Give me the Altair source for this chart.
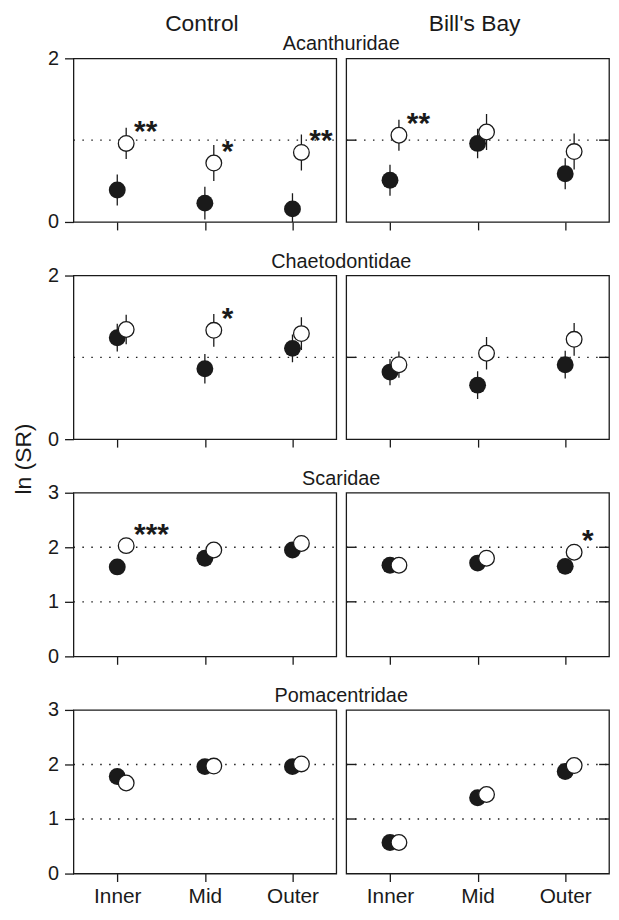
import altair as alt
import pandas as pd

families = ["Acanthuridae", "Chaetodontidae", "Scaridae", "Pomacentridae"]
sites = ["Control", "Bill's Bay"]
zones = ["Inner", "Mid", "Outer"]
y_max = [2, 2, 3, 3]
ref_levels = [[1], [1], [1, 2], [1, 2]]

# filled (dark) circles: mean ln(SR) per zone, [Control, Bill's Bay]
filled_mean = {
    "Acanthuridae":   [[0.39, 0.23, 0.16], [0.51, 0.96, 0.59]],
    "Chaetodontidae": [[1.24, 0.86, 1.11], [0.82, 0.66, 0.91]],
    "Scaridae":       [[1.64, 1.80, 1.95], [1.67, 1.71, 1.65]],
    "Pomacentridae":  [[1.78, 1.96, 1.96], [0.57, 1.39, 1.87]],
}
filled_se = {
    "Acanthuridae":   [[0.19, 0.20, 0.19], [0.19, 0.18, 0.19]],
    "Chaetodontidae": [[0.17, 0.18, 0.17], [0.16, 0.17, 0.17]],
    "Scaridae":       [[0.08, 0.08, 0.08], [0.08, 0.08, 0.08]],
    "Pomacentridae":  [[0.08, 0.08, 0.08], [0.08, 0.08, 0.08]],
}
# open circles
open_mean = {
    "Acanthuridae":   [[0.96, 0.72, 0.85], [1.06, 1.10, 0.86]],
    "Chaetodontidae": [[1.34, 1.33, 1.29], [0.91, 1.05, 1.22]],
    "Scaridae":       [[2.03, 1.95, 2.07], [1.67, 1.80, 1.91]],
    "Pomacentridae":  [[1.66, 1.97, 2.01], [0.57, 1.45, 1.98]],
}
open_se = {
    "Acanthuridae":   [[0.19, 0.22, 0.22], [0.19, 0.22, 0.22]],
    "Chaetodontidae": [[0.18, 0.20, 0.20], [0.16, 0.20, 0.20]],
    "Scaridae":       [[0.08, 0.08, 0.08], [0.08, 0.08, 0.08]],
    "Pomacentridae":  [[0.08, 0.08, 0.08], [0.08, 0.08, 0.08]],
}
signif = {
    "Acanthuridae":   [["**", "*", "**"], ["**", "", ""]],
    "Chaetodontidae": [["", "*", ""], ["", "", ""]],
    "Scaridae":       [["***", "", ""], ["", "", "*"]],
    "Pomacentridae":  [["", "", ""], ["", "", ""]],
}

rows = []
for fam in families:
    for si, site in enumerate(sites):
        for zi, z in enumerate(zones):
            for kind, m, s in (("filled", filled_mean, filled_se), ("open", open_mean, open_se)):
                mean = m[fam][si][zi]
                se = s[fam][si][zi]
                rows.append(dict(family=fam, site=site, zone=z, kind=kind, mean=mean,
                                 lo=mean - se, hi=mean + se,
                                 sig=signif[fam][si][zi] if kind == "open" else ""))
df = pd.DataFrame(rows)

W, H = 265, 165
INK = "#1a1a1a"
OFF = 9


def panel(fi, si):
    fam, site = families[fi], sites[si]
    d = df[(df.family == fam) & (df.site == site)]
    left = si == 0
    bottom = fi == len(families) - 1
    ysc = alt.Scale(domain=[0, y_max[fi]], nice=False)
    xsc = alt.Scale(type="point", domain=zones, padding=0.5)
    xaxis = alt.Axis(title=None, labels=bottom, tickSize=8, domain=False, grid=False,
                     labelFontSize=21, labelPadding=4, labelAngle=0,
                     tickColor=INK, tickWidth=1.3, labelColor=INK)
    if left:
        yaxis = alt.Axis(title=None, values=list(range(y_max[fi] + 1)), format="d", tickSize=9,
                         domain=False, grid=False, labelFontSize=20, labelPadding=6,
                         tickColor=INK, tickWidth=1.3, labelColor=INK)
    else:
        yaxis = None
    X = alt.X("zone:N", scale=xsc, axis=xaxis)

    def Y(f):
        return alt.Y(f, scale=ysc, axis=yaxis)

    layers = []
    refdf = pd.DataFrame({"v": ref_levels[fi]})
    layers.append(alt.Chart(refdf).mark_rule(strokeDash=[1.5, 7.5], color=INK, strokeWidth=1.4)
                  .encode(y=Y("v:Q"), x=alt.value(0), x2=alt.value(W)))
    if not left:
        layers.append(alt.Chart(refdf).mark_rule(color=INK, strokeWidth=1.4)
                      .encode(y=Y("v:Q"), x=alt.value(0), x2=alt.value(10)))
        layers.append(alt.Chart(refdf).mark_rule(color=INK, strokeWidth=1.4)
                      .encode(y=Y("v:Q"), x=alt.value(W - 10), x2=alt.value(W)))
    base = alt.Chart(d)
    fl = base.transform_filter(alt.datum.kind == "filled")
    op = base.transform_filter(alt.datum.kind == "open")
    layers.append(fl.mark_rule(color=INK, strokeWidth=1.3, clip=True)
                  .encode(x=X, y=Y("lo:Q"), y2="hi:Q"))
    layers.append(fl.mark_circle(size=290, color=INK, opacity=1)
                  .encode(x=X, y=Y("mean:Q")))
    layers.append(op.mark_rule(color=INK, strokeWidth=1.3, clip=True, xOffset=OFF)
                  .encode(x=X, y=Y("lo:Q"), y2="hi:Q"))
    layers.append(op.mark_circle(size=250, fill="white", stroke=INK, strokeWidth=1.3,
                                 opacity=1, xOffset=OFF)
                  .encode(x=X, y=Y("mean:Q")))
    layers.append(op.transform_filter(alt.datum.sig != "")
                  .mark_text(align="left", baseline="alphabetic", dx=OFF + 8, dy=-2,
                             fontSize=30, fontWeight="bold", color=INK)
                  .encode(x=X, y=Y("mean:Q"), text="sig:N"))
    if left:
        layers.append(alt.Chart(pd.DataFrame({"t": [fam]}))
                      .mark_text(align="center", baseline="alphabetic", fontSize=20, color=INK)
                      .encode(text="t:N", x=alt.value(W + 5), y=alt.value(-8)))
    if fi == 0:
        layers.append(alt.Chart(pd.DataFrame({"t": [site]}))
                      .mark_text(align="center", baseline="alphabetic", fontSize=23, color=INK)
                      .encode(text="t:N", x=alt.value(W / 2 - 3), y=alt.value(-28)))
    if left and fi == 1:
        layers.append(alt.Chart(pd.DataFrame({"t": ["ln (SR)"]}))
                      .mark_text(align="center", baseline="middle", angle=270, fontSize=23, color=INK)
                      .encode(text="t:N", x=alt.value(-50), y=alt.value(H + 20)))
    return alt.layer(*layers).properties(width=W, height=H)


panels = [panel(fi, si) for fi in range(len(families)) for si in range(len(sites))]
chart = (alt.concat(*panels, columns=2, spacing={"row": 54, "column": 10}, bounds="flush")
         .properties(padding={"left": 4, "top": 0, "right": 0, "bottom": 0})
         .configure(font="Liberation Sans")
         .configure_view(stroke=INK, strokeWidth=1.3))

chart.save("out.html", embed_options={"renderer": "svg", "actions": False})
